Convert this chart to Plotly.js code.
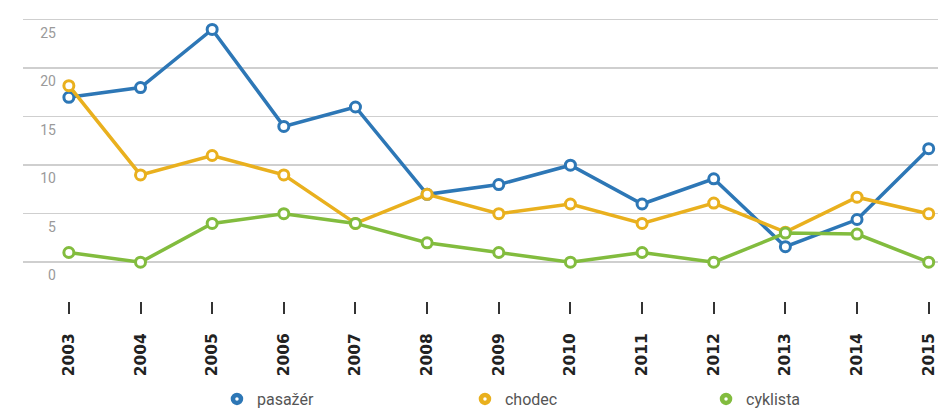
<!DOCTYPE html>
<html>
<head>
<meta charset="utf-8">
<script src="https://cdn.plot.ly/plotly-3.0.1.min.js"></script>
<style>html,body{margin:0;padding:0;background:#fff;}#chart{width:938px;height:416px;}</style>
</head>
<body>
<div id="chart"></div>
<script>
const years = [2003, 2004, 2005, 2006, 2007, 2008, 2009, 2010, 2011, 2012, 2013, 2014, 2015];
const pasazer = [17, 18, 24, 14, 16, 7, 8, 10, 6, 8.6, 1.6, 4.4, 11.7];
const chodec = [18.2, 9, 11, 9, 4, 7, 5, 6, 4, 6.1, 3.1, 6.7, 5];
const cyklista = [1, 0, 4, 5, 4, 2, 1, 0, 1, 0, 3, 2.9, 0];
const seriesNames = ['pasažér', 'chodec', 'cyklista'];
const yTicks = [0, 5, 10, 15, 20, 25];

const colors = ['#2d77b6', '#e9b01e', '#82bc3e'];
const seriesData = [pasazer, chodec, cyklista];
const legendIds = ['legend', 'legend2', 'legend3'];
const legendX = [0.2313, 0.4957, 0.7527];

const traces = [];
seriesData.forEach((vals, i) => {
  traces.push({
    x: years, y: vals, type: 'scatter', mode: 'lines+markers',
    name: seriesNames[i], showlegend: false, cliponaxis: false,
    line: {color: colors[i], width: 3.5},
    marker: {symbol: 'circle', size: 10, color: '#ffffff', line: {color: colors[i], width: 3}},
    hoverinfo: 'x+y+name'
  });
});
// legend entries (marker only)
seriesNames.forEach((n, i) => {
  traces.push({
    x: [null], y: [null], type: 'scatter', mode: 'markers', name: n,
    legend: legendIds[i], showlegend: true,
    marker: {symbol: 'circle', size: 8, color: '#ffffff', line: {color: colors[i], width: 4.5}}
  });
});

const legendFont = {family: 'Roboto, sans-serif', size: 16, color: '#555555'};
const layout = {
  width: 938, height: 416,
  margin: {l: 23, r: 0, t: 10, b: 115, autoexpand: false},
  paper_bgcolor: '#ffffff', plot_bgcolor: '#ffffff',
  showlegend: true,
  xaxis: {
    range: [2002.36, 2015.13],
    tickmode: 'array', tickvals: years, ticktext: years.map(String),
    tickangle: -90, ticks: 'outside', ticklen: 12, tickwidth: 2, tickcolor: '#333333',
    ticklabelstandoff: 13, ticklabeloverflow: 'allow',
    showgrid: false, zeroline: false, showline: false,
    tickfont: {family: '"DejaVu Sans", sans-serif', size: 15.5, weight: 700, color: '#222222'}
  },
  yaxis: {
    range: [-4, 26],
    tickmode: 'array', tickvals: yTicks,
    showgrid: true, gridcolor: '#cfcfcf', gridwidth: 1.5,
    zeroline: false, showline: false, ticks: '',
    anchor: 'free', position: 0.036,
    ticklabelshift: 13,
    tickfont: {family: 'Roboto, sans-serif', size: 14, color: '#9a9a9a'}
  }
};
legendIds.forEach((id, i) => {
  layout[id] = {
    orientation: 'h', xref: 'container', yref: 'container',
    x: legendX[i], xanchor: 'left', y: -0.016, yanchor: 'bottom',
    font: legendFont, bgcolor: 'rgba(0,0,0,0)', itemclick: false
  };
});

Plotly.newPlot('chart', traces, layout, {displayModeBar: false, staticPlot: true});
</script>
</body>
</html>
